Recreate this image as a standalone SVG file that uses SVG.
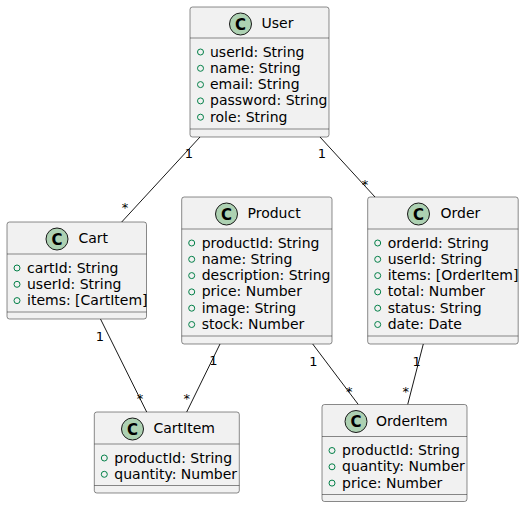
<svg xmlns="http://www.w3.org/2000/svg" width="525" height="508" viewBox="0 0 525 508">
<style>
.box{fill:#F1F1F1;stroke:#181818;stroke-width:0.5}
.sep{stroke:#181818;stroke-width:0.5}
.ci{fill:#ADD1B2;stroke:#181818;stroke-width:1}
.cl{font-family:"DejaVu Sans",sans-serif;font-size:15px;font-weight:bold;fill:#000;text-anchor:middle}
.tt{font-family:"DejaVu Sans",sans-serif;font-size:14px;fill:#000}
.at{font-family:"DejaVu Sans",sans-serif;font-size:14px;fill:#000}
.vis{fill:none;stroke:#038048;stroke-width:1}
.ln{stroke:#181818;stroke-width:1;fill:none}
.lb{font-family:"DejaVu Sans",sans-serif;font-size:13px;fill:#000;text-anchor:middle}
</style>
<rect width="525" height="508" fill="#FFFFFF"/>
<g id="connectors">
<line class="ln" x1="200" y1="137" x2="121.7" y2="222"/>
<line class="ln" x1="320" y1="137" x2="375" y2="197"/>
<line class="ln" x1="100.5" y1="319" x2="146.7" y2="412"/>
<line class="ln" x1="220" y1="344" x2="186.7" y2="412"/>
<line class="ln" x1="312.7" y1="344" x2="358.3" y2="404.5"/>
<line class="ln" x1="423.3" y1="344" x2="407.7" y2="404.5"/>
<text class="lb" x="189" y="158">1</text>
<text class="lb" x="125" y="212">*</text>
<text class="lb" x="322" y="158">1</text>
<text class="lb" x="365" y="189">*</text>
<text class="lb" x="100" y="340.5">1</text>
<text class="lb" x="140" y="403">*</text>
<text class="lb" x="213.3" y="365">1</text>
<text class="lb" x="186.7" y="403">*</text>
<text class="lb" x="313.3" y="365.5">1</text>
<text class="lb" x="349.3" y="396">*</text>
<text class="lb" x="416.7" y="366">1</text>
<text class="lb" x="405.7" y="396">*</text>
</g>
<g id="User">
<rect class="box" x="190" y="7" width="139" height="130" rx="2.5"/>
<circle class="ci" cx="240.5" cy="24" r="11"/>
<text class="cl" x="240.5" y="29.5">C</text>
<text class="tt" x="261.5" y="28.3">User</text>
<line class="sep" x1="190" y1="38" x2="329" y2="38"/>
<circle class="vis" cx="200.5" cy="52" r="3"/><text class="at" x="210" y="56.5">userId: String</text>
<circle class="vis" cx="200.5" cy="68.3" r="3"/><text class="at" x="210" y="72.8">name: String</text>
<circle class="vis" cx="200.5" cy="84.6" r="3"/><text class="at" x="210" y="89.1">email: String</text>
<circle class="vis" cx="200.5" cy="100.9" r="3"/><text class="at" x="210" y="105.4">password: String</text>
<circle class="vis" cx="200.5" cy="117.2" r="3"/><text class="at" x="210" y="121.7">role: String</text>
<line class="sep" x1="190" y1="129" x2="329" y2="129"/>
</g>
<g id="Cart">
<rect class="box" x="7" y="222" width="139.5" height="97" rx="2.5"/>
<circle class="ci" cx="57" cy="239" r="11"/>
<text class="cl" x="57" y="244.5">C</text>
<text class="tt" x="78.5" y="243.3">Cart</text>
<line class="sep" x1="7" y1="254" x2="146.5" y2="254"/>
<circle class="vis" cx="17" cy="268" r="3"/><text class="at" x="27" y="272.5">cartId: String</text>
<circle class="vis" cx="17" cy="284.3" r="3"/><text class="at" x="27" y="288.8">userId: String</text>
<circle class="vis" cx="17" cy="300.6" r="3"/><text class="at" x="27" y="305.1">items: [CartItem]</text>
<line class="sep" x1="7" y1="312" x2="146.5" y2="312"/>
</g>
<g id="Product">
<rect class="box" x="181.7" y="197" width="150.3" height="147" rx="2.5"/>
<circle class="ci" cx="226.5" cy="214" r="11"/>
<text class="cl" x="226.5" y="219.5">C</text>
<text class="tt" x="247.5" y="218.3">Product</text>
<line class="sep" x1="181.7" y1="229" x2="332" y2="229"/>
<circle class="vis" cx="191.7" cy="243" r="3"/><text class="at" x="201.7" y="247.5">productId: String</text>
<circle class="vis" cx="191.7" cy="259.3" r="3"/><text class="at" x="201.7" y="263.8">name: String</text>
<circle class="vis" cx="191.7" cy="275.6" r="3"/><text class="at" x="201.7" y="280.1">description: String</text>
<circle class="vis" cx="191.7" cy="291.9" r="3"/><text class="at" x="201.7" y="296.4">price: Number</text>
<circle class="vis" cx="191.7" cy="308.2" r="3"/><text class="at" x="201.7" y="312.7">image: String</text>
<circle class="vis" cx="191.7" cy="324.5" r="3"/><text class="at" x="201.7" y="329">stock: Number</text>
<line class="sep" x1="181.7" y1="336" x2="332" y2="336"/>
</g>
<g id="Order">
<rect class="box" x="367.7" y="197" width="150.5" height="147" rx="2.5"/>
<circle class="ci" cx="418.5" cy="214" r="11"/>
<text class="cl" x="418.5" y="219.5">C</text>
<text class="tt" x="440.5" y="218.3">Order</text>
<line class="sep" x1="367.7" y1="229" x2="518.2" y2="229"/>
<circle class="vis" cx="377.7" cy="243" r="3"/><text class="at" x="387.7" y="247.5">orderId: String</text>
<circle class="vis" cx="377.7" cy="259.3" r="3"/><text class="at" x="387.7" y="263.8">userId: String</text>
<circle class="vis" cx="377.7" cy="275.6" r="3"/><text class="at" x="387.7" y="280.1">items: [OrderItem]</text>
<circle class="vis" cx="377.7" cy="291.9" r="3"/><text class="at" x="387.7" y="296.4">total: Number</text>
<circle class="vis" cx="377.7" cy="308.2" r="3"/><text class="at" x="387.7" y="312.7">status: String</text>
<circle class="vis" cx="377.7" cy="324.5" r="3"/><text class="at" x="387.7" y="329">date: Date</text>
<line class="sep" x1="367.7" y1="336" x2="518.2" y2="336"/>
</g>
<g id="CartItem">
<rect class="box" x="94.3" y="412" width="145" height="81" rx="2.5"/>
<circle class="ci" cx="132.5" cy="429" r="11"/>
<text class="cl" x="132.5" y="434.5">C</text>
<text class="tt" x="153.5" y="433.3">CartItem</text>
<line class="sep" x1="94.3" y1="444" x2="239.3" y2="444"/>
<circle class="vis" cx="104.3" cy="458" r="3"/><text class="at" x="114.3" y="462.5">productId: String</text>
<circle class="vis" cx="104.3" cy="474.3" r="3"/><text class="at" x="114.3" y="478.8">quantity: Number</text>
<line class="sep" x1="94.3" y1="485.5" x2="239.3" y2="485.5"/>
</g>
<g id="OrderItem">
<rect class="box" x="322" y="404.5" width="145" height="97" rx="2.5"/>
<circle class="ci" cx="356" cy="421.5" r="11"/>
<text class="cl" x="356" y="427">C</text>
<text class="tt" x="376" y="425.8">OrderItem</text>
<line class="sep" x1="322" y1="436.5" x2="467" y2="436.5"/>
<circle class="vis" cx="332" cy="450.5" r="3"/><text class="at" x="342" y="455">productId: String</text>
<circle class="vis" cx="332" cy="466.8" r="3"/><text class="at" x="342" y="471.3">quantity: Number</text>
<circle class="vis" cx="332" cy="483.1" r="3"/><text class="at" x="342" y="487.6">price: Number</text>
<line class="sep" x1="322" y1="494.5" x2="467" y2="494.5"/>
</g>
</svg>
